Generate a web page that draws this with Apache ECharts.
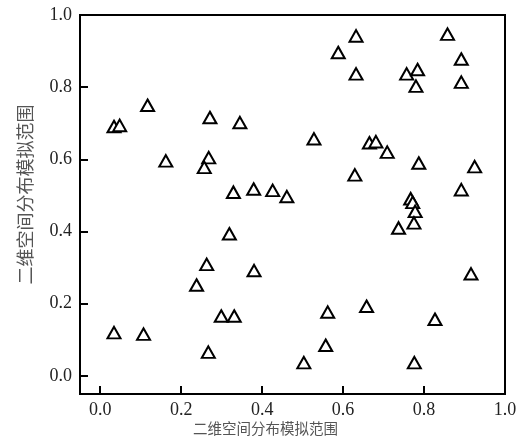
<!DOCTYPE html>
<html>
<head>
<meta charset="utf-8">
<script src="https://cdn.jsdelivr.net/npm/echarts@6/dist/echarts.min.js"></script>
<style>html,body{margin:0;padding:0;background:#fff}#c{width:519px;height:436px}</style>
</head>
<body>
<div id="c"></div>
<script>
var xValues = [0.034,0.048,0.117,0.271,0.162,0.268,0.257,0.632,0.588,0.632,0.345,0.528,0.629,0.329,0.379,0.426,0.461,0.858,0.892,0.757,0.784,0.780,0.892,0.665,0.681,0.709,0.787,0.925,0.892,0.767,0.772,0.778,0.775,0.737,0.916,0.827,0.776,0.319,0.380,0.562,0.557,0.503,0.658,0.034,0.107,0.263,0.238,0.299,0.331,0.267];
var yValues = [0.691,0.694,0.750,0.716,0.596,0.605,0.578,0.942,0.896,0.837,0.702,0.657,0.557,0.509,0.518,0.514,0.497,0.947,0.878,0.837,0.849,0.803,0.814,0.646,0.649,0.620,0.590,0.580,0.516,0.491,0.481,0.456,0.424,0.410,0.283,0.157,0.037,0.394,0.292,0.177,0.085,0.037,0.193,0.120,0.116,0.309,0.252,0.166,0.166,0.066];
var xTicks = [0.0,0.2,0.4,0.6,0.8,1.0];
var yTicks = [0.0,0.2,0.4,0.6,0.8,1.0];
var xName = '二维空间分布模拟范围';
var yName = '二维空间分布模拟范围';

var points = xValues.map(function(x,i){return [x,yValues[i]];});
var serif = 'Liberation Serif';
var cjk = 'Noto Sans CJK SC';
var chart = echarts.init(document.getElementById('c'), null, {renderer:'canvas'});
chart.setOption({
  animation:false,
  textStyle:{fontFamily:serif},
  grid:{left:80,right:14,top:15,bottom:42,containLabel:false,outerBoundsMode:'none',show:true,borderColor:'#000',borderWidth:2,backgroundColor:'transparent'},
  xAxis:{
    type:'value',min:-0.05,max:1.0,
    splitLine:{show:false},
    axisLine:{show:true,onZero:false,lineStyle:{color:'#000',width:2}},
    axisTick:{show:true,inside:true,length:8,lineStyle:{color:'#000',width:2},customValues:xTicks},
    axisLabel:{show:true,customValues:xTicks,margin:7,color:'#222',fontFamily:serif,fontSize:18,formatter:function(v){return v.toFixed(1);}},
    name:xName,nameLocation:'middle',nameGap:27,nameMoveOverlap:false,
    nameTextStyle:{color:'#555',fontFamily:cjk,fontSize:14.5,padding:[0,54,0,0]}
  },
  yAxis:{
    type:'value',min:-0.05,max:1.0,
    splitLine:{show:false},
    axisLine:{show:true,onZero:false,lineStyle:{color:'#000',width:2}},
    axisTick:{show:true,inside:true,length:8,lineStyle:{color:'#000',width:2},customValues:yTicks},
    axisLabel:{show:true,customValues:yTicks,margin:8,color:'#222',fontFamily:serif,fontSize:18,formatter:function(v){return v.toFixed(1);}},
    name:yName,nameLocation:'middle',nameGap:46,nameMoveOverlap:false,
    nameTextStyle:{color:'#555',fontFamily:cjk,fontSize:18,padding:[0,0,0,20]}
  },
  series:[{
    type:'scatter',
    data:points,
    symbol:'triangle',
    symbolSize:[13,11.5],
    itemStyle:{color:'#fff',opacity:1,borderColor:'#000',borderWidth:2},
    emphasis:{disabled:true}
  }]
});
</script>
</body>
</html>
